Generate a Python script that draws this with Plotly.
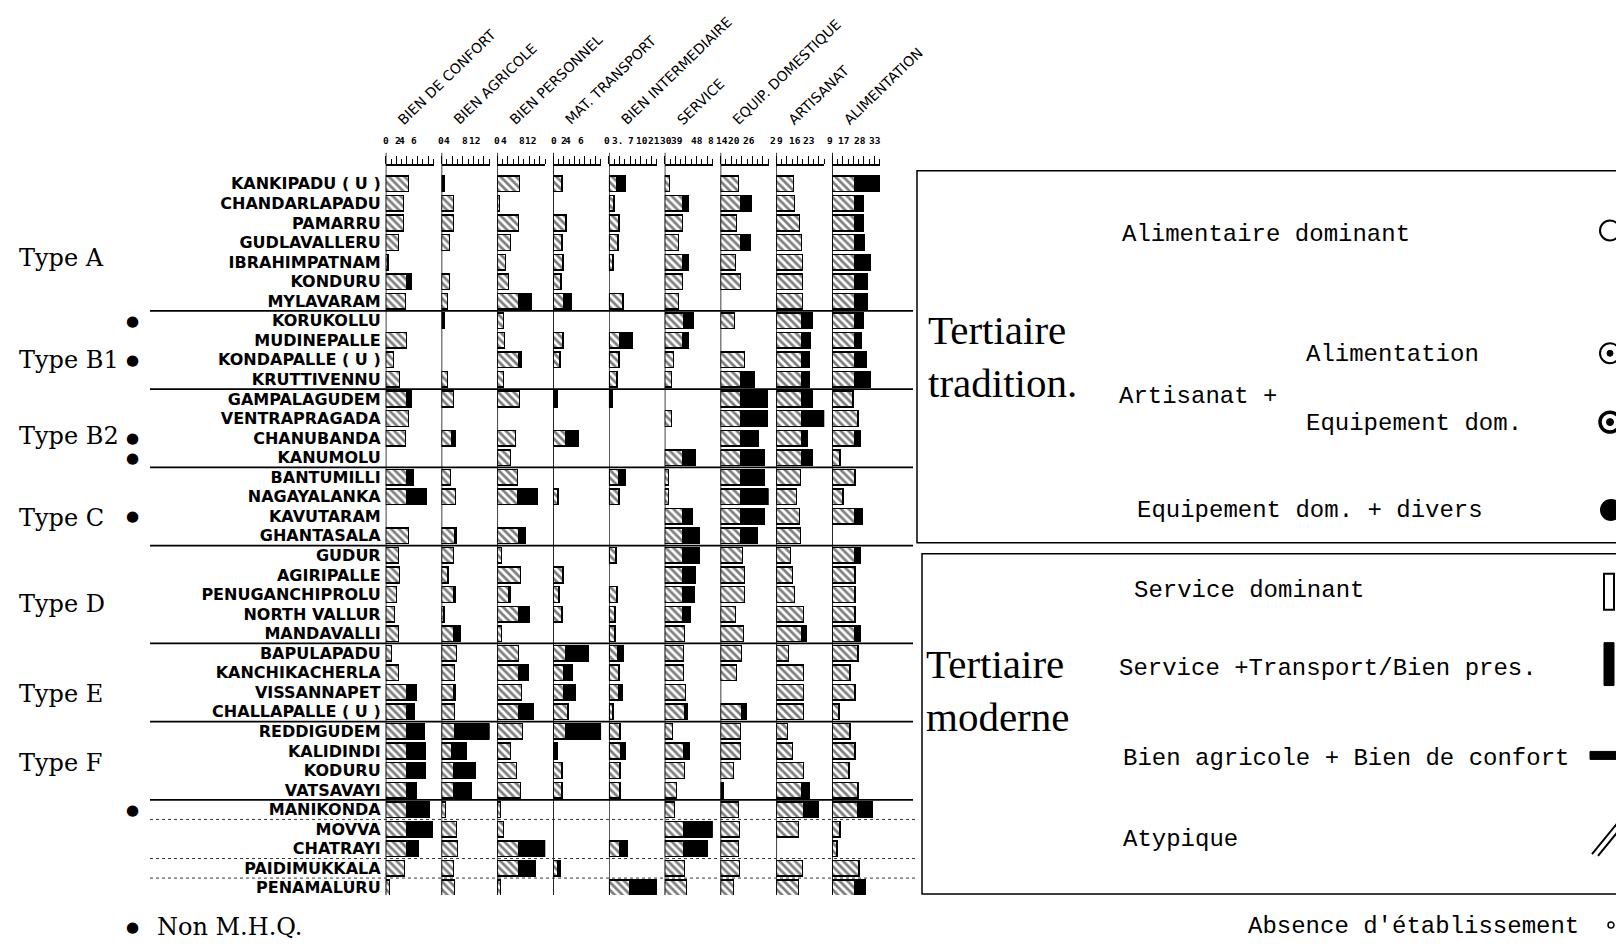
import plotly.graph_objects as go

# --- data ---
sectors = ["BIEN DE CONFORT", "BIEN AGRICOLE", "BIEN PERSONNEL", "MAT. TRANSPORT",
           "BIEN INTERMEDIAIRE", "SERVICE", "EQUIP. DOMESTIQUE", "ARTISANAT", "ALIMENTATION"]

villages = ["KANKIPADU ( U )", "CHANDARLAPADU", "PAMARRU", "GUDLAVALLERU", "IBRAHIMPATNAM",
            "KONDURU", "MYLAVARAM", "KORUKOLLU", "MUDINEPALLE", "KONDAPALLE ( U )",
            "KRUTTIVENNU", "GAMPALAGUDEM", "VENTRAPRAGADA", "CHANUBANDA", "KANUMOLU",
            "BANTUMILLI", "NAGAYALANKA", "KAVUTARAM", "GHANTASALA", "GUDUR",
            "AGIRIPALLE", "PENUGANCHIPROLU", "NORTH VALLUR", "MANDAVALLI", "BAPULAPADU",
            "KANCHIKACHERLA", "VISSANNAPET", "CHALLAPALLE ( U )", "REDDIGUDEM", "KALIDINDI",
            "KODURU", "VATSAVAYI", "MANIKONDA", "MOVVA", "CHATRAYI",
            "PAIDIMUKKALA", "PENAMALURU"]

# group labels and group sizes (last group has no label)
type_names = ["Type A", "Type B1", "Type B2", "Type C", "Type D", "Type E", "Type F", ""]
type_sizes = [7, 4, 4, 4, 5, 4, 4, 5]
dotted_after = ["MANIKONDA", "CHATRAYI", "PAIDIMUKKALA"]
non_mhq = ["KORUKOLLU", "KONDAPALLE ( U )", "CHANUBANDA", "KANUMOLU", "KAVUTARAM", "MANIKONDA"]

# bar lengths in ruler units (hatched part, black part)
confort_h = [23, 18, 18, 13, 2.5, 21, 20, 0, 21, 8, 14, 21, 23, 20, 0, 21, 21, 0, 23, 13,
             14, 11, 9, 13, 6, 13, 21, 21, 21, 21, 21, 21, 21, 21, 21, 19, 4]
confort_b = [0, 0, 0, 0, 0, 5, 0, 0, 0, 0, 0, 5, 0, 0, 0, 7, 20, 0, 0, 0,
             0, 0, 0, 0, 0, 0, 10, 8, 18, 19, 19, 10, 23, 26, 12, 0, 0]
agricole_h = [0, 12, 12, 8, 0, 8, 6, 0, 0, 0, 6, 12, 0, 10, 0, 9, 14, 0, 13, 12,
              6, 12, 2, 12, 15, 13, 12, 13, 13, 10, 12, 12, 4, 15, 16, 12, 13]
agricole_b = [3, 0, 0, 0, 0, 0, 0, 3, 0, 0, 0, 0, 0, 4, 0, 0, 0, 0, 2, 0,
              1, 2, 1, 7, 0, 0, 2, 0, 35, 15, 22, 18, 0, 0, 0, 0, 0]
personnel_h = [22, 2, 21, 13, 8, 11, 21, 6, 7, 21, 6, 22, 0, 18, 13, 20, 20, 0, 21, 4,
               23, 11, 21, 4, 21, 21, 24, 21, 25, 13, 19, 23, 3, 6, 21, 21, 3]
personnel_b = [0, 0, 0, 0, 0, 0, 13, 0, 0, 3, 0, 0, 0, 0, 0, 0, 20, 0, 7, 0,
               0, 2, 11, 0, 0, 10, 0, 15, 0, 0, 0, 0, 0, 0, 27, 17, 0]
transport_h = [9, 0, 13, 9, 10, 8, 11, 0, 10, 7, 0, 0, 0, 13, 0, 0, 5, 0, 0, 0,
               10, 6, 9, 0, 13, 11, 11, 15, 13, 0, 9, 9, 0, 0, 0, 5, 0]
transport_b = [0, 0, 0, 0, 0, 0, 7, 0, 0, 0, 0, 4, 0, 12, 0, 0, 0, 0, 0, 0,
               0, 0, 0, 0, 22, 8, 11, 0, 37, 4, 0, 0, 0, 0, 0, 2, 0]
intermed_h = [8, 5, 10, 9, 4, 0, 14, 0, 11, 10, 8, 0, 0, 0, 0, 10, 10, 0, 0, 7,
              0, 8, 6, 6, 9, 10, 10, 4, 11, 12, 11, 11, 0, 0, 11, 0, 21]
intermed_b = [8, 0, 0, 0, 0, 0, 0, 0, 12, 0, 0, 3, 0, 0, 0, 6, 0, 0, 0, 0,
              0, 0, 0, 0, 5, 0, 3, 0, 0, 4, 0, 0, 0, 0, 7, 0, 27]
service_h = [5, 18, 18, 14, 18, 18, 14, 19, 18, 9, 7, 0, 7, 0, 18, 4, 4, 18, 18, 18,
             18, 18, 18, 20, 19, 19, 21, 20, 8, 19, 20, 12, 10, 19, 19, 20, 22]
service_b = [0, 6, 0, 0, 6, 0, 0, 10, 6, 0, 0, 0, 0, 0, 13, 0, 0, 10, 17, 17,
             13, 12, 8, 0, 0, 0, 0, 3, 0, 6, 0, 0, 0, 29, 24, 0, 0]
equip_h = [18, 20, 16, 20, 15, 20, 0, 14, 0, 24, 20, 20, 20, 20, 20, 20, 20, 20, 20, 22,
           24, 24, 15, 23, 21, 16, 0, 21, 20, 20, 13, 0, 18, 19, 18, 19, 13]
equip_b = [0, 11, 0, 10, 0, 0, 0, 0, 0, 0, 14, 27, 27, 18, 24, 24, 28, 24, 17, 0,
           0, 0, 0, 0, 0, 0, 0, 5, 0, 0, 0, 3, 0, 0, 0, 0, 0]
artisanat_h = [17, 18, 23, 25, 26, 26, 26, 25, 25, 25, 25, 25, 25, 25, 25, 24, 20, 23, 24, 14,
               16, 18, 27, 25, 12, 27, 27, 27, 11, 16, 27, 25, 27, 22, 0, 26, 22]
artisanat_b = [0, 0, 0, 0, 0, 0, 0, 11, 9, 8, 8, 11, 23, 6, 11, 0, 0, 0, 0, 0,
               0, 0, 0, 5, 0, 0, 0, 0, 0, 0, 0, 8, 15, 0, 0, 0, 0]
aliment_h = [23, 23, 23, 23, 23, 23, 23, 23, 23, 23, 23, 21, 26, 23, 8, 23, 11, 23, 0, 23,
             23, 23, 23, 23, 26, 18, 23, 7, 18, 23, 17, 26, 26, 8, 5, 27, 23]
aliment_b = [24, 8, 8, 9, 15, 12, 12, 8, 6, 11, 15, 0, 0, 5, 0, 0, 0, 7, 0, 5,
             0, 0, 0, 5, 0, 0, 0, 0, 0, 0, 0, 0, 14, 0, 0, 0, 10]

hatched = [confort_h, agricole_h, personnel_h, transport_h, intermed_h,
           service_h, equip_h, artisanat_h, aliment_h]
solid = [confort_b, agricole_b, personnel_b, transport_b, intermed_b,
         service_b, equip_b, artisanat_b, aliment_b]

# scale labels printed above each ruler
scale_labels = [["0", "2", "4", "6"], ["0", "4", "8", "12"], ["0", "4", "8", "12"],
                ["0", "2", "4", "6"], ["0", "3.", "7", "10"], ["21", "30", "39", "48"],
                ["8", "14", "20", "26"], ["2", "9", "16", "23"], ["9", "17", "28", "33"]]
scale_label_pos = [[0, 12, 16, 28.6], [-0.7, 5, 23.3, 33.3], [-0.3, 6.3, 24.7, 33],
                   [1, 11, 15.4, 27.7], [-1.5, 8.5, 22, 33], [-10.5, 1, 12.5, 32],
                   [-10, 1.5, 13.5, 28.5], [-3, 4, 18.5, 33], [-2, 11, 28, 42.5]]

# --- layout helpers (page pixels -> paper); the page has an 8px body margin ---
OFF = 8
W, H = 1624 - OFF, 946 - OFF
def px(x):
    return (x - OFF) / W
def py(y):
    return (946 - y) / H

PLOT_TOP, PLOT_BOT = 166, 897
PANEL_W = 48
panel_left = [385.7 + 55.8 * k for k in range(len(sectors))]
rows = list(range(len(villages)))

def nz(v):
    return [x if x else None for x in v]

fig = go.Figure()
shapes, annots = [], []

for k, name in enumerate(sectors):
    ax = "x" if k == 0 else f"x{k + 1}"
    fig.add_trace(go.Bar(
        y=rows, x=nz(hatched[k]), orientation="h", xaxis=ax, yaxis="y", width=0.8,
        marker=dict(color="white", line=dict(color="black", width=1.5),
                    pattern=dict(shape="\\", fgcolor="black", bgcolor="white",
                                 size=5.5, solidity=0.5)),
        showlegend=False, hoverinfo="skip"))
    fig.add_trace(go.Bar(
        y=rows, x=nz(solid[k]), orientation="h", xaxis=ax, yaxis="y", width=0.8,
        marker=dict(color="black", line=dict(color="black", width=1.5)),
        showlegend=False, hoverinfo="skip"))

    fig.update_layout(**{("xaxis" if k == 0 else f"xaxis{k + 1}"): dict(
        domain=[px(panel_left[k]), px(panel_left[k] + PANEL_W)], range=[0, PANEL_W],
        side="top", anchor="y", showline=True, linecolor="black", linewidth=1.5,
        ticks="outside", ticklen=8, tickwidth=1.2, tickcolor="black",
        tickmode="linear", tick0=0, dtick=10.6,
        minor=dict(ticks="outside", ticklen=5, dtick=5.3, tickcolor="black", tickwidth=1),
        showticklabels=False, showgrid=False, zeroline=False, fixedrange=True)})

    # panel left line
    shapes.append(dict(type="line", xref=ax, yref="paper", x0=0, x1=0,
                       y0=py(PLOT_BOT), y1=py(153), line=dict(color="black", width=1.5)))
    # scale numbers (paper coords so that labels left of the panel stay visible)
    for lab, pos in zip(scale_labels[k], scale_label_pos[k]):
        annots.append(dict(text=lab, xref="paper", yref="paper", x=px(panel_left[k] + pos),
                           y=py(141), showarrow=False, xanchor="center", yanchor="middle",
                           font=dict(family="DejaVu Sans Mono", size=9.5, color="black",
                                     weight="bold")))
    # rotated sector header
    annots.append(dict(text=name, xref=ax, yref="paper", x=6, y=py(131),
                       textangle=-44, showarrow=False, xanchor="left", yanchor="bottom",
                       font=dict(family="DejaVu Sans", size=14, color="black")))

fig.update_layout(yaxis=dict(
    domain=[py(PLOT_BOT), py(PLOT_TOP)], range=[36.37, -0.93], anchor="x",
    tickmode="array", tickvals=rows, ticktext=villages, ticks="", ticklabelstandoff=4,
    tickfont=dict(family="DejaVu Sans", size=16, color="black", weight="bold"),
    showgrid=False, zeroline=False, showline=False, fixedrange=True))

# group separators
start = 0
for tname, size in zip(type_names, type_sizes):
    start += size
    if start < len(villages):
        shapes.append(dict(type="line", xref="paper", yref="y", x0=px(150), x1=px(913),
                           y0=start - 0.5, y1=start - 0.5, line=dict(color="black", width=1.8)))
for v in dotted_after:
    i = villages.index(v)
    shapes.append(dict(type="line", xref="paper", yref="y", x0=px(150), x1=px(915),
                       y0=i + 0.5, y1=i + 0.5, line=dict(color="#333", width=1, dash="dot")))

# type labels (centred on their group)
type_y = [3.8, 9.0, 12.9, 17.1, 21.5, 26.1, 29.6]
serif = dict(family="DejaVu Serif", size=24, color="black")
for tname, yy in zip(type_names, type_y):
    annots.append(dict(text=tname, xref="paper", yref="y", x=px(17), y=yy,
                       showarrow=False, xanchor="left", yanchor="middle", font=serif))

# non M.H.Q. bullets
for v in non_mhq:
    annots.append(dict(text="●", xref="paper", yref="y", x=px(132), y=villages.index(v),
                       showarrow=False, xanchor="center", yanchor="middle",
                       font=dict(family="DejaVu Sans", size=15, color="black")))
annots.append(dict(text="●", xref="paper", yref="paper", x=px(132), y=py(929),
                   showarrow=False, xanchor="center", yanchor="middle",
                   font=dict(family="DejaVu Sans", size=15, color="black")))
annots.append(dict(text="Non M.H.Q.", xref="paper", yref="paper", x=px(155), y=py(929),
                   showarrow=False, xanchor="left", yanchor="middle", font=serif))

# --- legend boxes ---
shapes.append(dict(type="rect", xref="paper", yref="paper", x0=px(917), x1=1.01,
                   y0=py(544), y1=py(171), line=dict(color="black", width=1.5)))
shapes.append(dict(type="rect", xref="paper", yref="paper", x0=px(922), x1=1.01,
                   y0=py(896), y1=py(555), line=dict(color="black", width=1.5)))

big = dict(family="Liberation Serif", size=41, color="black")
annots.append(dict(text="Tertiaire<br>tradition.", xref="paper", yref="paper", x=px(926),
                   y=py(357), showarrow=False, xanchor="left", yanchor="middle",
                   align="left", font=big))
annots.append(dict(text="Tertiaire<br>moderne", xref="paper", yref="paper", x=px(924),
                   y=py(692), showarrow=False, xanchor="left", yanchor="middle",
                   align="left", font=big))

leg_font = dict(family="Liberation Mono", size=24, color="black")
legend_texts = [("Alimentaire dominant", 1120, 235), ("Alimentation", 1304, 355),
                ("Artisanat +", 1117, 397), ("Equipement dom.", 1304, 424),
                ("Equipement dom. + divers", 1135, 512), ("Service dominant", 1132, 592),
                ("Service +Transport/Bien pres.", 1117, 670),
                ("Bien agricole + Bien de confort", 1121, 760), ("Atypique", 1121, 841),
                ("Absence d'établissement", 1246, 928)]
for t, x, y in legend_texts:
    annots.append(dict(text=t, xref="paper", yref="paper", x=px(x), y=py(y),
                       showarrow=False, xanchor="left", yanchor="middle", font=leg_font))

# legend symbols (partly cut by the right edge, as in the source)
def circ(cx, cy, r, fill=None, lw=2):
    shapes.append(dict(type="circle", xref="paper", yref="paper",
                       x0=px(cx - r), x1=px(cx + r), y0=py(cy + r), y1=py(cy - r),
                       line=dict(color="black", width=lw),
                       fillcolor=fill if fill else "rgba(0,0,0,0)"))
circ(1610, 231, 10)
circ(1610, 354, 10); circ(1610, 354, 3, fill="black", lw=1)
circ(1610, 423, 10, lw=3.5); circ(1610, 423, 3.5, fill="black", lw=1)
circ(1611, 511, 10, fill="black")
circ(1611, 927, 3, lw=1.5)
shapes.append(dict(type="rect", xref="paper", yref="paper", x0=px(1604), x1=px(1614),
                   y0=py(611), y1=py(575), line=dict(color="black", width=2)))
shapes.append(dict(type="rect", xref="paper", yref="paper", x0=px(1604), x1=px(1614),
                   y0=py(687), y1=py(644), fillcolor="black", line=dict(color="black", width=1)))
shapes.append(dict(type="rect", xref="paper", yref="paper", x0=px(1590), x1=px(1630),
                   y0=py(761), y1=py(753), fillcolor="black", line=dict(color="black", width=1)))
for dx in (0, 6):
    shapes.append(dict(type="line", xref="paper", yref="paper", x0=px(1592 + dx),
                       x1=px(1618 + dx), y0=py(856 + dx * 0.3), y1=py(824 + dx * 0.3),
                       line=dict(color="black", width=2)))

fig.update_layout(
    width=W, height=H, margin=dict(l=0, r=0, t=0, b=0),
    barmode="stack", bargap=0.2,
    paper_bgcolor="white", plot_bgcolor="white",
    shapes=shapes, annotations=annots, showlegend=False,
)

fig.write_html("out.html")
